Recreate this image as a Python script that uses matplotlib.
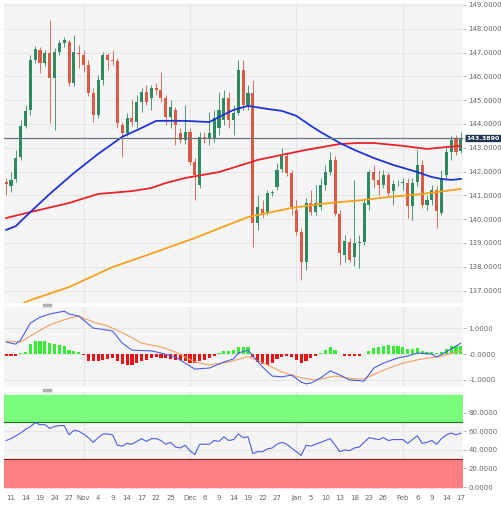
import matplotlib
matplotlib.use("Agg")
import matplotlib.pyplot as plt
import matplotlib.transforms as mtransforms
from matplotlib.patches import Rectangle
import numpy as np
import pandas as pd

# daily EUR/JPY style candles, Oct 10 2022 .. Feb 17 2023 (weekdays)
dates = pd.bdate_range("2022-10-10", "2023-02-17")

opens = [141.56, 141.40, 141.69, 142.61, 143.92, 144.59, 146.69, 147.11, 146.56, 146.98,
         145.93, 147.02, 147.40, 147.45, 145.72, 146.98, 146.90, 146.48, 145.30, 144.38,
         145.85, 146.90, 146.69, 146.66, 143.96, 143.62, 144.25, 144.08, 144.92, 145.34,
         145.09, 145.51, 145.43, 145.09, 144.29, 144.59, 143.62, 143.33, 143.66, 142.40,
         141.44, 143.46, 143.41, 143.41, 143.83, 144.17, 145.09, 144.17, 144.46, 146.27,
         144.80, 145.30, 139.84, 140.43, 140.30, 141.10, 141.35, 142.11, 142.66, 141.94,
         140.39, 139.46, 138.20, 140.68, 140.30, 140.51, 141.44, 141.98, 142.49, 140.22,
         138.50, 139.04, 138.41, 139.00, 139.04, 140.60, 141.98, 141.65, 141.44, 141.86,
         141.18, 141.50, 141.54, 141.52, 140.55, 141.56, 142.28, 140.60, 140.81, 141.23,
         140.26, 141.86, 142.82, 143.41, 142.87]
highs = [141.73, 141.98, 142.91, 144.17, 144.80, 146.90, 147.28, 147.24, 147.11, 148.37,
         147.19, 147.53, 147.66, 147.53, 147.74, 147.32, 147.11, 146.69, 145.51, 146.06,
         147.02, 146.98, 147.11, 146.77, 144.08, 144.46, 145.01, 145.22, 145.51, 145.64,
         145.64, 145.72, 146.18, 145.22, 145.01, 144.71, 143.83, 144.80, 143.83, 142.57,
         143.66, 143.66, 144.50, 144.59, 145.34, 145.43, 145.34, 144.80, 146.69, 146.69,
         145.64, 145.85, 141.02, 140.81, 141.23, 141.23, 142.36, 142.99, 142.82, 142.07,
         140.81, 139.63, 140.89, 141.23, 141.44, 141.73, 142.28, 142.82, 142.66, 140.39,
         139.34, 139.21, 141.65, 139.34, 140.89, 142.07, 142.28, 142.07, 142.07, 141.98,
         141.65, 141.65, 141.73, 141.73, 141.73, 142.91, 142.49, 141.02, 141.44, 141.40,
         142.07, 142.99, 143.50, 143.54, 143.66]
lows = [141.02, 141.14, 141.56, 142.49, 143.83, 144.38, 146.56, 146.14, 146.44, 144.04,
        143.75, 146.90, 147.24, 145.60, 145.60, 146.35, 146.18, 145.18, 144.08, 144.25,
        145.64, 146.27, 146.48, 143.83, 142.61, 143.50, 143.92, 143.83, 144.50, 144.80,
        144.59, 145.22, 144.92, 143.96, 143.83, 143.12, 143.20, 143.16, 142.28, 140.81,
        141.31, 143.20, 143.12, 143.24, 143.54, 143.96, 143.83, 143.54, 144.38, 144.59,
        144.59, 138.83, 139.55, 140.05, 140.18, 140.97, 141.23, 141.98, 141.81, 140.18,
        139.34, 137.44, 137.86, 140.18, 140.18, 140.39, 141.23, 141.86, 140.13, 138.08,
        138.20, 138.20, 138.03, 137.95, 138.92, 140.39, 141.31, 141.02, 141.31, 140.97,
        140.60, 141.40, 141.23, 140.05, 139.97, 141.40, 140.47, 140.39, 140.60, 139.63,
        140.18, 141.65, 142.49, 142.70, 142.78]
closes = [141.48, 141.65, 142.57, 143.92, 144.55, 146.69, 147.15, 146.56, 146.98, 145.93,
          147.02, 147.40, 147.53, 145.72, 147.02, 146.94, 146.48, 145.30, 144.38, 145.85,
          146.90, 146.69, 146.66, 144.04, 143.62, 144.25, 144.08, 144.92, 145.34, 144.92,
          145.51, 145.43, 145.09, 144.29, 144.71, 143.96, 143.33, 143.66, 142.40, 141.86,
          143.46, 143.41, 143.62, 144.25, 144.59, 145.09, 144.17, 144.46, 146.27, 144.80,
          145.30, 139.84, 140.51, 140.26, 141.10, 141.14, 142.07, 142.66, 141.94, 140.51,
          139.46, 138.20, 140.68, 140.30, 140.68, 141.44, 141.98, 142.49, 140.22, 138.58,
          139.08, 138.29, 139.00, 139.04, 140.68, 141.98, 141.65, 141.44, 141.86, 141.10,
          141.48, 141.54, 141.58, 140.55, 141.52, 142.28, 140.60, 140.81, 141.23, 140.34,
          141.73, 142.82, 143.33, 142.82, 143.39]
last_price = 143.389

# moving averages (candle index, price)
ma_blue_idx = [0, 2, 5, 9, 14, 19, 24, 28, 31, 37, 42, 44, 47, 50, 54, 57, 60, 63,
               65, 69, 72, 76, 80, 85, 88, 90, 92, 94]
ma_blue = [139.55, 139.71, 140.30, 141.06, 141.94, 142.74, 143.46, 143.83, 144.13, 144.13,
           144.08, 144.29, 144.59, 144.76, 144.63, 144.55, 144.34, 143.92, 143.66, 143.20,
           142.91, 142.57, 142.28, 141.98, 141.77, 141.69, 141.65, 141.69]
ma_red_idx = [0, 5, 13, 19, 26, 30, 33, 37, 44, 50, 52, 57, 62, 69, 73, 76, 82, 87, 91, 94]
ma_red = [140.05, 140.30, 140.68, 141.06, 141.18, 141.31, 141.52, 141.73, 141.98, 142.36,
          142.49, 142.70, 142.91, 143.16, 143.20, 143.20, 143.08, 142.95, 143.03, 143.08]
ma_orange_idx = [0, 5, 13, 22, 28, 39, 50, 54, 59, 65, 74, 79, 86, 94]
ma_orange = [136.14, 136.60, 137.15, 137.99, 138.41, 139.21, 140.09, 140.26, 140.47,
             140.64, 140.81, 140.93, 141.06, 141.27]

# MACD panel
macd_idx = [0, 2, 3, 5, 7, 9, 12, 13, 15, 18, 21, 22, 24, 26, 30, 32, 35, 37, 39, 42,
            45, 47, 48, 50, 53, 55, 57, 59, 61, 62, 63, 65, 67, 69, 71, 74, 76, 78, 81, 83,
            85, 88, 89, 92, 94]
macd = [0.46, 0.38, 0.54, 1.19, 1.42, 1.54, 1.65, 1.54, 1.46, 1.00,
        0.92, 0.88, 0.42, 0.15, 0.12, 0.04, -0.12, -0.35, -0.58, -0.54,
        -0.31, -0.19, 0.04, 0.15, -0.50, -0.85, -0.88, -0.81, -1.08, -1.15,
        -1.12, -0.92, -0.65, -0.81, -1.00, -1.04, -0.54, -0.35, -0.15, -0.08,
        0.04, 0.00, -0.12, 0.19, 0.42]
signal_idx = [0, 3, 6, 9, 13, 15, 18, 21, 25, 28, 32, 35, 39, 42, 46, 50, 54, 57, 61,
              64, 68, 72, 74, 78, 82, 86, 90, 94]
signal = [0.50, 0.46, 0.81, 1.12, 1.38, 1.46, 1.23, 1.08, 0.73, 0.42,
          0.27, 0.08, -0.31, -0.42, -0.31, -0.10, -0.42, -0.69, -0.92,
          -1.00, -0.85, -0.96, -0.96, -0.62, -0.35, -0.19, -0.08, 0.12]
hist = [-0.06, -0.06, -0.06,
        0.04, 0.09, 0.37, 0.50, 0.51, 0.51, 0.41, 0.37, 0.35, 0.32, 0.15, 0.12, 0.09,
        -0.04, -0.25, -0.28, -0.25, -0.22, -0.20, -0.15, -0.28, -0.37, -0.42,
        -0.42, -0.35, -0.27, -0.22, -0.15, -0.12, -0.15, -0.15, -0.19, -0.22,
        -0.24, -0.28, -0.33, -0.36, -0.28, -0.22, -0.15, -0.09, 0.02,
        0.12, 0.12, 0.15, 0.27, 0.27, 0.27,
        -0.12, -0.31, -0.38, -0.42, -0.35, -0.19, -0.12, -0.08, -0.12, -0.23,
        -0.35, -0.27, -0.15, -0.08, 0.02, 0.15, 0.27, 0.15, -0.01, -0.08,
        -0.08, -0.08, -0.08, 0.01,
        0.12, 0.23, 0.27, 0.31, 0.35, 0.31, 0.31, 0.27, 0.19, 0.19,
        0.23, 0.12, 0.08, 0.08, 0.02, 0.08, 0.19, 0.30, 0.30, 0.30]

# RSI panel
rsi = [50, 52, 55, 58, 62, 65, 69, 67, 67, 63, 65, 66, 66, 56, 61, 60, 57, 53, 48, 53,
       57, 57, 56, 45, 44, 47, 46, 49, 52, 49, 52, 52, 50, 46, 48, 43, 42, 45, 39, 35,
       46, 46, 46, 50, 49, 54, 50, 51, 57, 53, 54, 36, 38, 38, 41, 42, 46, 48, 46, 42,
       38, 34, 45, 44, 46, 48, 50, 52, 45, 38, 40, 39, 42, 43, 48, 53, 52, 51, 53, 50,
       51, 51, 51, 47, 51, 55, 47, 48, 50, 46, 52, 56, 58, 56, 58]

tick_dates = ["2022-10-11", "2022-10-14", "2022-10-19", "2022-10-24", "2022-10-27",
              "2022-11-01", "2022-11-04", "2022-11-09", "2022-11-14", "2022-11-17",
              "2022-11-22", "2022-11-25", "2022-12-01", "2022-12-06", "2022-12-09",
              "2022-12-14", "2022-12-19", "2022-12-22", "2022-12-27", "2023-01-02",
              "2023-01-05", "2023-01-10", "2023-01-13", "2023-01-18", "2023-01-23",
              "2023-01-26", "2023-02-01", "2023-02-06", "2023-02-09", "2023-02-14",
              "2023-02-17"]
tick_labels = ["11", "14", "19", "24", "27", "Nov", "4", "9", "14", "17", "22", "25",
               "Dec", "6", "9", "14", "19", "22", "27", "Jan", "5", "10", "13", "18",
               "23", "26", "Feb", "6", "9", "14", "17"]
month_dates = ["2022-11-01", "2022-12-01", "2023-01-02", "2023-02-01"]

UP = "#2f8a62"
DOWN = "#db5a45"
BG = "#f5f5f5"
GRID = "#e6e6e6"
LABEL = "#666666"

x = np.arange(len(dates))
o, h, l, c = map(np.array, (opens, highs, lows, closes))
tick_pos = [dates.get_loc(pd.Timestamp(d)) for d in tick_dates]
month_pos = [dates.get_loc(pd.Timestamp(d)) for d in month_dates]

W, H = 501, 508
fig = plt.figure(figsize=(W / 100, H / 100), dpi=100)
left, right = 4 / W, 463 / W


def panel(top_px, bottom_px):
    return fig.add_axes([left, (H - bottom_px) / H, right - left, (bottom_px - top_px) / H])


ax = panel(3, 303)
ax_m = panel(307, 387)
ax_r = panel(392, 489)

for a in (ax, ax_m, ax_r):
    a.set_facecolor(BG)
    a.set_xlim(-0.45, len(dates) - 0.55)
    for s in a.spines.values():
        s.set_visible(False)
    a.yaxis.tick_right()
    a.tick_params(axis="y", labelsize=5, colors="#999999", labelcolor=LABEL,
                  length=2.5, width=0.5, pad=1.5)
    a.set_xticks(tick_pos)
    a.tick_params(axis="x", length=0, labelbottom=False)
    for m in month_pos:
        a.axvline(m, color=GRID, lw=0.8, zorder=0)

# candles
up = c >= o
colors = np.where(up, UP, DOWN)
body_low = np.minimum(o, c)
body_h = np.maximum(np.abs(c - o), 0.04)
ax.vlines(x, l, h, color=colors, lw=0.6, zorder=2)
ax.bar(x, body_h, bottom=body_low, width=0.64, color=colors, zorder=3)

ax.plot(ma_orange_idx, ma_orange, color="#f5a11c", lw=1.3, zorder=4)
ax.plot(ma_red_idx, ma_red, color="#e8232a", lw=1.3, zorder=4)
ax.plot(ma_blue_idx, ma_blue, color="#1f35d0", lw=1.3, zorder=4)
ax.axhline(last_price, color="#66727f", lw=0.9, zorder=5)

ax.set_ylim(136.48, 149.08)
price_ticks = np.arange(137, 150)
ax.set_yticks(price_ticks)
ax.set_yticklabels([f"{v:.4f}" for v in price_ticks])
for v in price_ticks:
    ax.axhline(v, color=GRID, lw=0.8, zorder=0)
trans = mtransforms.blended_transform_factory(ax.transAxes, ax.transData)
ax.text(1.008, last_price, f"{last_price:.4f}", transform=trans, ha="left", va="center",
        fontsize=4.6, color="white", fontweight="bold", zorder=6,
        bbox=dict(boxstyle="round,pad=0.18,rounding_size=0.15", fc="#1d3553", ec="none"))

# MACD
hist_arr = np.array(hist)
ax_m.bar(x, hist_arr, width=0.65, color=np.where(hist_arr >= 0, "#33ee33", "#ee1111"),
         zorder=2)
ax_m.plot(signal_idx, signal, color="#f0a060", lw=0.8, zorder=3)
ax_m.plot(macd_idx, macd, color="#4a5ee0", lw=0.8, zorder=3)
ax_m.set_ylim(-1.27, 1.81)
ax_m.set_yticks([1, 0, -1])
ax_m.set_yticklabels(["1.0000", "-0.0000", "-1.0000"])
for v in (1, 0, -1):
    ax_m.axhline(v, color=GRID, lw=0.8, zorder=0)

# RSI
ax_r.set_ylim(-2, 102)
for v in (20, 40, 60, 80):
    ax_r.axhline(v, color=GRID, lw=0.8, zorder=0)
ax_r.axhspan(70, 99, xmin=0.0, xmax=0.998, color="#7cfc7c", zorder=1)
ax_r.axhspan(0, 30, xmin=0.0, xmax=0.998, color="#fd7f7f", zorder=1)
ax_r.axhline(70, xmax=0.998, color="#2e6b2e", lw=0.8, zorder=2)
ax_r.axhline(30, xmax=0.998, color="#6b2e2e", lw=0.8, zorder=2)
ax_r.plot(x, rsi, color="#4a5ee0", lw=0.8, zorder=3)
rsi_ticks = [0, 20, 40, 60, 80]
ax_r.set_yticks(rsi_ticks)
ax_r.set_yticklabels([f"{v:.4f}" for v in rsi_ticks])
ax_r.set_xticklabels(tick_labels)
ax_r.tick_params(axis="x", labelbottom=True, labelsize=5, labelcolor=LABEL, pad=4)

# little drag handles between panels
for top in (304, 389):
    fig.patches.append(Rectangle((43 / W, (H - top - 3) / H), 9 / W, 3 / H,
                                 transform=fig.transFigure, fc="#b5b5b5", ec="#999999",
                                 lw=0.3))

fig.savefig("out.png", dpi=100, facecolor="white")
